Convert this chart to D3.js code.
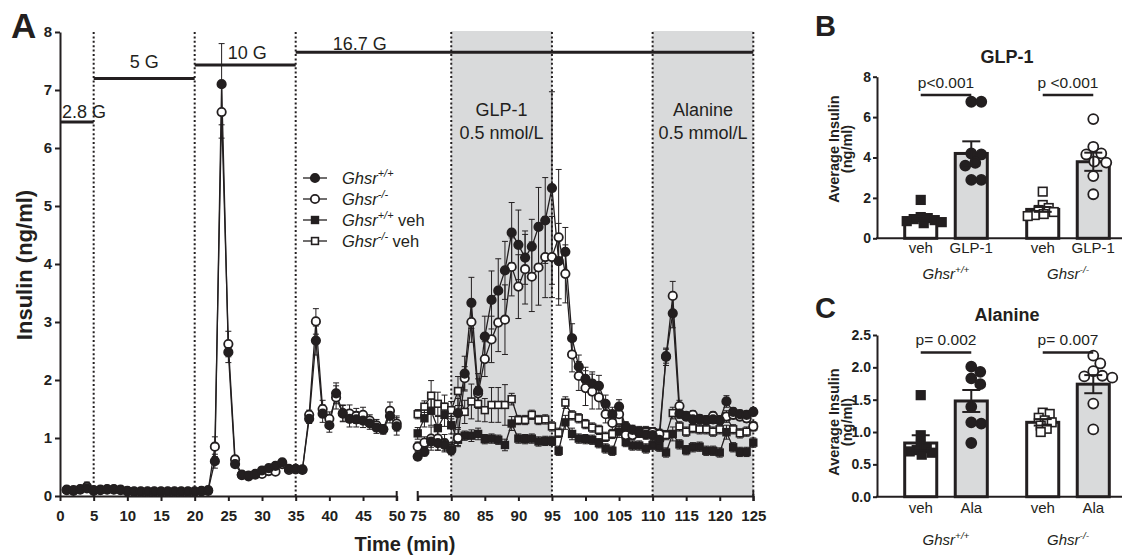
<!DOCTYPE html>
<html lang="en">
<head>
<meta charset="UTF-8">
<title>Insulin secretion, Ghsr perifusion</title>
<script src="https://d3js.org/d3.v7.min.js"></script>
<style>
  body { margin: 0; background: #fff; }
  svg text { font-family: "Liberation Sans", Arial, sans-serif; fill: #231f20; }
</style>
</head>
<body>
<svg width="1125" height="555"></svg>
<script>
// ---------- data: panel A ----------
const earlyT = d3.range(1, 51);
const lateT = d3.range(75, 126);

const wtEarly = [0.11,0.10,0.11,0.13,0.10,0.11,0.12,0.12,0.11,0.09, 0.08,0.08,0.08,0.08,0.08,0.08,0.08,0.08,0.08,0.08,
  0.09,0.10,0.60,7.10,2.48,0.55,0.37,0.34,0.37,0.44, 0.48,0.52,0.58,0.47,0.47,0.46,1.33,2.68,1.42,1.22,
  1.77,1.43,1.33,1.32,1.30,1.25,1.18,1.15,1.38,1.20];
const koEarly = [0.10,0.09,0.12,0.16,0.09,0.10,0.11,0.11,0.10,0.08, 0.07,0.07,0.07,0.07,0.07,0.07,0.07,0.07,0.07,0.07,
  0.08,0.09,0.85,6.62,2.62,0.63,0.36,0.35,0.38,0.38, 0.43,0.42,0.55,0.45,0.46,0.45,1.40,3.01,1.50,1.33,
  1.70,1.42,1.42,1.38,1.40,1.30,1.22,1.15,1.47,1.25];
const semWtEarly = [0.02,0.02,0.02,0.04,0.02,0.02,0.02,0.02,0.02,0.02, 0.02,0.02,0.02,0.02,0.02,0.02,0.02,0.02,0.02,0.02,
  0.02,0.02,0.12,0.70,0.18,0.05,0.03,0.03,0.03,0.04, 0.04,0.05,0.04,0.03,0.03,0.03,0.08,0.25,0.15,0.12,
  0.18,0.14,0.14,0.13,0.12,0.10,0.10,0.08,0.12,0.15];
const semKoEarly = [0.02,0.02,0.02,0.08,0.02,0.02,0.02,0.02,0.02,0.02, 0.02,0.02,0.02,0.02,0.02,0.02,0.02,0.02,0.02,0.02,
  0.02,0.02,0.17,0.45,0.22,0.05,0.03,0.03,0.03,0.04, 0.04,0.05,0.04,0.03,0.03,0.03,0.08,0.22,0.15,0.12,
  0.20,0.14,0.15,0.13,0.13,0.10,0.10,0.08,0.15,0.13];

const wtLate = [0.68,0.76,0.94,0.91,0.88,0.79,1.43,2.11,3.33,1.81, 2.75,3.38,3.54,3.89,4.54,4.33,4.11,4.30,4.64,4.75,
  5.31,4.05,4.21,2.72,2.23,2.02,1.94,1.90,1.59,1.41, 1.54,1.20,1.14,1.09,1.06,1.05,0.97,2.41,3.15,1.42,
  1.37,1.32,1.33,1.31,1.32,1.31,1.63,1.45,1.41,1.40, 1.45];
const koLate = [0.85,0.92,0.99,0.99,0.91,0.82,1.00,2.03,3.00,1.77, 2.36,2.70,2.99,3.04,3.95,3.61,3.91,3.78,3.94,4.12,
  4.12,4.46,3.83,2.44,2.07,1.86,1.80,1.70,1.41,1.26, 1.41,1.05,1.05,1.10,1.10,1.10,1.07,2.40,3.45,1.55,
  1.38,1.40,1.32,1.31,1.38,1.31,1.37,1.40,1.37,1.34, 1.20];
const wtVehLate = [1.08,1.34,1.47,1.17,1.40,1.22,0.97,1.04,1.04,1.07, 0.98,0.99,0.97,0.88,1.25,0.99,0.98,0.99,0.94,0.95,
  0.95,0.78,1.27,1.07,0.99,0.98,0.97,0.91,0.82,0.78, 1.11,0.93,0.87,0.87,0.82,0.88,0.85,0.75,1.07,0.89,
  0.79,0.84,0.85,0.78,0.78,0.75,1.10,0.84,0.76,0.76, 0.92];
const koVehLate = [1.41,1.54,1.73,1.59,1.54,1.48,1.81,1.45,1.63,1.59, 1.48,1.57,1.57,1.57,1.67,1.31,1.31,1.40,1.31,1.32,
  1.20,1.09,1.61,1.39,1.34,1.24,1.18,1.14,1.02,1.07, 1.30,1.05,1.10,1.12,1.12,1.10,1.07,1.05,1.43,1.20,
  1.11,1.17,1.15,1.15,1.11,1.15,1.37,1.15,1.08,1.11, 1.20];
const semWtLate = [0.06,0.07,0.10,0.12,0.10,0.08,0.25,0.30,0.44,0.30, 0.35,0.50,0.55,0.50,0.52,0.60,0.46,0.47,0.68,0.74,
  1.66,0.65,0.42,0.25,0.20,0.20,0.20,0.18,0.15,0.12, 0.12,0.08,0.08,0.08,0.08,0.08,0.08,0.12,0.25,0.08,
  0.07,0.07,0.07,0.07,0.07,0.07,0.10,0.07,0.07,0.07, 0.07];
const semKoLate = [0.08,0.10,0.20,0.20,0.15,0.10,0.15,0.20,0.35,0.25, 0.30,0.40,0.50,0.60,0.50,0.55,0.60,0.60,0.65,0.70,
  0.70,1.17,0.50,0.30,0.25,0.30,0.30,0.20,0.15,0.12, 0.12,0.08,0.08,0.08,0.08,0.08,0.08,0.15,0.25,0.10,
  0.07,0.07,0.07,0.07,0.07,0.07,0.07,0.07,0.07,0.07, 0.07];
const semWtVeh = [0.10,0.15,0.25,0.20,0.20,0.15,0.10,0.08,0.10,0.10, 0.08,0.08,0.08,0.10,0.12,0.08,0.08,0.08,0.08,0.08,
  0.08,0.08,0.12,0.10,0.08,0.08,0.08,0.08,0.08,0.08, 0.10,0.08,0.08,0.08,0.08,0.08,0.08,0.08,0.12,0.08,
  0.08,0.08,0.08,0.08,0.08,0.08,0.12,0.08,0.08,0.08, 0.08];
const semKoVeh = [0.08,0.10,0.26,0.20,0.20,0.15,0.25,0.20,0.30,0.30, 0.20,0.30,0.30,0.35,0.10,0.08,0.08,0.08,0.08,0.08,
  0.08,0.08,0.10,0.08,0.08,0.08,0.08,0.08,0.08,0.08, 0.10,0.08,0.08,0.08,0.08,0.08,0.08,0.08,0.10,0.08,
  0.08,0.08,0.08,0.08,0.08,0.08,0.10,0.08,0.08,0.08, 0.08];

const glucoseSteps = [
  { label: "2.8 G", from: 0, to: 5, level: 6.45 },
  { label: "5 G", from: 5, to: 20, level: 7.2 },
  { label: "10 G", from: 20, to: 35, level: 7.43 },
  { label: "16.7 G", from: 35, to: 125, level: 7.65 }
];
const stimuli = [
  { name: "GLP-1", dose: "0.5 nmol/L", from: 80, to: 95 },
  { name: "Alanine", dose: "0.5 mmol/L", from: 110, to: 125 }
];
const switchTimes = [5, 20, 35, 80, 95, 110, 125];
const ticksEarly = d3.range(0, 51, 5);
const ticksLate = d3.range(75, 126, 5);
const ticksA = d3.range(0, 9);

// ---------- data: panels B and C ----------
const genotypes = ["+/+", "-/-"];
const treatB = ["veh", "GLP-1"];
const meansB = [0.99, 4.2, 1.43, 3.79];
const semsB = [0.1, 0.6, 0.12, 0.45];
const pointsB = [
  [1.9, 1.05, 1.0, 0.95, 0.9, 0.85, 0.8, 0.75],
  [6.76, 6.76, 4.2, 4.15, 3.74, 3.6, 2.89, 2.89],
  [2.31, 1.65, 1.5, 1.4, 1.3, 1.2, 1.15, 1.1],
  [5.9, 4.53, 4.2, 4.15, 3.8, 3.75, 3.08, 2.18]
];
const pTextB = ["p<0.001", "p <0.001"];
const ticksB = [0, 2, 4, 6, 8];

const treatC = ["veh", "Ala"];
const meansC = [0.83, 1.48, 1.15, 1.74];
const semsC = [0.12, 0.17, 0.05, 0.14];
const pointsC = [
  [1.57, 0.95, 0.8, 0.75, 0.72, 0.7, 0.68, 0.65],
  [2.01, 1.93, 1.83, 1.74, 1.39, 1.15, 1.13, 0.83],
  [1.3, 1.28, 1.22, 1.18, 1.15, 1.1, 1.05, 1.0],
  [2.18, 2.06, 1.94, 1.87, 1.86, 1.84, 1.44, 1.04]
];
const pTextC = ["p= 0.002", "p= 0.007"];
const ticksC = [0, 0.5, 1, 1.5, 2, 2.5];

// ---------- drawing ----------
const ink = "#231f20";
const shade = "#d9dadb";
const svg = d3.select("svg");

function styleAxis(g, fs) {
  g.attr("font-size", fs).attr("font-family", "Liberation Sans, Arial, sans-serif");
  g.select(".domain").attr("stroke", ink).attr("stroke-width", 2);
  g.selectAll(".tick line").attr("stroke", ink).attr("stroke-width", 2);
  g.selectAll(".tick text").attr("font-weight", "bold").attr("fill", ink);
}

function ghsr(text, sup, suffix, fs) {
  text.attr("font-size", fs);
  text.append("tspan").attr("font-style", "italic").text("Ghsr");
  text.append("tspan").attr("font-style", "italic").attr("font-size", fs * 0.66)
    .attr("dy", -fs * 0.42).text(sup);
  if (suffix) text.append("tspan").attr("dy", fs * 0.42).text(suffix);
}

function marker(g, cx, cy, shape, filled, size) {
  if (shape === "circle") {
    g.append("circle").attr("cx", cx).attr("cy", cy).attr("r", size)
      .attr("fill", filled ? ink : "#fff").attr("stroke", ink).attr("stroke-width", 1.8);
  } else {
    g.append("rect").attr("x", cx - size).attr("y", cy - size)
      .attr("width", size * 2).attr("height", size * 2)
      .attr("fill", filled ? ink : "#fff").attr("stroke", ink).attr("stroke-width", 1.6);
  }
}

// ===== Panel A =====
const yA = d3.scaleLinear().domain([0, 8]).range([496, 32]);
const xEarly = d3.scaleLinear().domain([0, 50]).range([60, 396.7]);
const xLate = d3.scaleLinear().domain([75, 125]).range([417.7, 753.3]);
const xt = t => t <= 50 ? xEarly(t) : xLate(t);
const gA = svg.append("g");

gA.selectAll("rect.stim").data(stimuli).join("rect")
  .attr("x", d => xLate(d.from))
  .attr("width", d => xLate(d.to) - xLate(d.from))
  .attr("y", yA(8) - 1)
  .attr("height", yA(0) - yA(8) + 1)
  .attr("fill", shade);

stimuli.forEach(d => {
  const cx = xLate((d.from + d.to) / 2);
  gA.append("text").attr("x", cx).attr("y", 116).attr("text-anchor", "middle")
    .attr("font-size", 18).text(d.name);
  gA.append("text").attr("x", cx).attr("y", 139).attr("text-anchor", "middle")
    .attr("font-size", 18).text(d.dose);
});

gA.selectAll("line.switch").data(switchTimes).join("line")
  .attr("x1", d => xt(d)).attr("x2", d => xt(d))
  .attr("y1", yA(8)).attr("y2", yA(0))
  .attr("stroke", ink).attr("stroke-width", 2).attr("stroke-dasharray", "2 2.4");

// glucose steps
const glucoseLabelAt = [
  { t: 0.3, anchor: "start", lift: 4 },
  { t: 12.5, anchor: "middle", lift: 10 },
  { t: 24.9, anchor: "start", lift: 6.5 },
  { t: 40.5, anchor: "start", lift: 2.5 }
];
glucoseSteps.forEach((d, i) => {
  gA.append("line")
    .attr("x1", xt(d.from)).attr("x2", xt(d.to))
    .attr("y1", yA(d.level)).attr("y2", yA(d.level))
    .attr("stroke", ink).attr("stroke-width", 3);
  const p = glucoseLabelAt[i];
  gA.append("text").attr("x", xt(p.t)).attr("y", yA(d.level) - p.lift)
    .attr("text-anchor", p.anchor).attr("font-size", 18).text(d.label);
});

// axes
const axE = gA.append("g").attr("transform", `translate(0,${yA(0)})`)
  .call(d3.axisBottom(xEarly).tickValues(ticksEarly).tickSize(5).tickPadding(9).tickSizeOuter(0));
styleAxis(axE, 15);
const axL = gA.append("g").attr("transform", `translate(0,${yA(0)})`)
  .call(d3.axisBottom(xLate).tickValues(ticksLate).tickSize(5).tickPadding(9).tickSizeOuter(0));
styleAxis(axL, 15);
[50, 75, 125].forEach(t => {
  gA.append("line").attr("x1", xt(t)).attr("x2", xt(t))
    .attr("y1", yA(0) - 5).attr("y2", yA(0) + 5)
    .attr("stroke", ink).attr("stroke-width", 2);
});
const axY = gA.append("g").attr("transform", `translate(${xEarly(0)},0)`)
  .call(d3.axisLeft(yA).tickValues(ticksA).tickSize(5).tickPadding(3).tickSizeOuter(0));
styleAxis(axY, 15);

gA.append("text").attr("x", 405).attr("y", 551).attr("text-anchor", "middle")
  .attr("font-size", 20).attr("font-weight", "bold").text("Time (min)");
gA.append("text").attr("transform", "translate(32,265) rotate(-90)")
  .attr("text-anchor", "middle").attr("font-size", 22).attr("font-weight", "bold")
  .text("Insulin (ng/ml)");
gA.append("text").attr("x", 11).attr("y", 38).attr("font-size", 35)
  .attr("font-weight", "bold").text("A");

// series
const seriesA = [
  { shape: "square", filled: false, size: 3.4, segs: [[lateT, koVehLate, semKoVeh]] },
  { shape: "square", filled: true, size: 3.4, segs: [[lateT, wtVehLate, semWtVeh]] },
  { shape: "circle", filled: false, size: 4.2, segs: [[earlyT, koEarly, semKoEarly], [lateT, koLate, semKoLate]] },
  { shape: "circle", filled: true, size: 4.2, segs: [[earlyT, wtEarly, semWtEarly], [lateT, wtLate, semWtLate]] }
];
seriesA.forEach(s => {
  s.pts = s.segs.map(([ts, vs, es]) => ts.map((t, i) => ({ t, v: vs[i], e: es[i] })));
});

const gErr = gA.append("g").attr("stroke", ink).attr("stroke-width", 1);
seriesA.forEach(s => s.pts.flat().forEach(d => {
  const x = xt(d.t), y0 = yA(d.v - d.e), y1 = yA(d.v + d.e);
  gErr.append("line").attr("x1", x).attr("x2", x).attr("y1", y0).attr("y2", y1);
  gErr.append("line").attr("x1", x - 3).attr("x2", x + 3).attr("y1", y1).attr("y2", y1);
  gErr.append("line").attr("x1", x - 3).attr("x2", x + 3).attr("y1", y0).attr("y2", y0);
}));

const line = d3.line().x(d => xt(d.t)).y(d => yA(d.v));
seriesA.forEach(s => s.pts.forEach(seg => {
  gA.append("path").attr("d", line(seg)).attr("fill", "none")
    .attr("stroke", ink).attr("stroke-width", 1.3);
}));
seriesA.forEach(s => {
  const gm = gA.append("g");
  s.pts.flat().forEach(d => marker(gm, xt(d.t), yA(d.v), s.shape, s.filled, s.size));
});

// legend
const legendRows = [
  { sup: "+/+", suffix: "", shape: "circle", filled: true, size: 4.2 },
  { sup: "-/-", suffix: "", shape: "circle", filled: false, size: 4.2 },
  { sup: "+/+", suffix: " veh", shape: "square", filled: true, size: 3.4 },
  { sup: "-/-", suffix: " veh", shape: "square", filled: false, size: 3.4 }
];
const gLeg = gA.append("g");
legendRows.forEach((r, i) => {
  const cy = 178 + i * 21;
  gLeg.append("line").attr("x1", 303).attr("x2", 327).attr("y1", cy).attr("y2", cy)
    .attr("stroke", ink).attr("stroke-width", 1.3);
  marker(gLeg, 315, cy, r.shape, r.filled, r.size);
  ghsr(gLeg.append("text").attr("x", 342).attr("y", cy + 6), r.sup, r.suffix, 16.5);
});

// ===== Panels B and C =====
const groupX = d3.scalePoint().domain(genotypes).range([885, 1129]).padding(0.5);
const innerX = d3.scaleBand().domain([0, 1]).range([-41.3, 41.3]).paddingInner(0.366);

// simple dodge so that points at similar heights sit side by side
function swarm(values, y, cx, r) {
  const placed = [];
  return values.map(v => {
    const py = y(v);
    let off = 0;
    for (let k = 0; k < 80; k++) {
      const cand = (k % 2 ? 1 : -1) * Math.ceil(k / 2);
      if (placed.every(p => Math.hypot(p.x - (cx + cand), p.y - py) >= 2 * r)) { off = cand; break; }
    }
    const pt = { x: cx + off, y: py };
    placed.push(pt);
    return pt;
  });
}

function barPanel(o) {
  const g = svg.append("g");
  const y = d3.scaleLinear().domain(o.domain).range(o.range);
  const ax = g.append("g").attr("transform", "translate(877,0)")
    .call(d3.axisLeft(y).tickValues(o.ticks).tickFormat(o.fmt).tickSize(4).tickPadding(2).tickSizeOuter(0));
  styleAxis(ax, 14);
  g.append("line").attr("x1", 876).attr("x2", 1122).attr("y1", y(0)).attr("y2", y(0))
    .attr("stroke", ink).attr("stroke-width", 2);

  o.means.forEach((m, i) => {
    const gi = Math.floor(i / 2), ti = i % 2;
    const x0 = groupX(genotypes[gi]) + innerX(ti);
    const cx = x0 + innerX.bandwidth() / 2;
    g.append("rect").attr("x", x0).attr("width", innerX.bandwidth())
      .attr("y", y(m)).attr("height", y(0) - y(m))
      .attr("fill", ti ? shade : "#fff").attr("stroke", ink).attr("stroke-width", 3);
    const pts = swarm(o.points[i], y, cx, ti ? 5 : 3.2);
    pts.forEach(p => marker(g, p.x, p.y, ti ? "circle" : "square", gi === 0, ti ? 5 : 4.3));
    const e0 = y(m - o.sems[i]), e1 = y(m + o.sems[i]);
    g.append("line").attr("x1", cx).attr("x2", cx).attr("y1", e0).attr("y2", e1)
      .attr("stroke", ink).attr("stroke-width", 2);
    [e0, e1].forEach(ey => g.append("line").attr("x1", cx - 9).attr("x2", cx + 9)
      .attr("y1", ey).attr("y2", ey).attr("stroke", ink).attr("stroke-width", 2));
    g.append("text").attr("x", cx).attr("y", o.catY).attr("text-anchor", "middle")
      .attr("font-size", 15).text(o.treat[ti]);
  });

  genotypes.forEach((gt, gi) => {
    const gc = groupX(gt);
    const xa = gc + innerX(0) + innerX.bandwidth() / 2;
    const xb = gc + innerX(1) + innerX.bandwidth() / 2;
    g.append("line").attr("x1", xa).attr("x2", xb)
      .attr("y1", y(o.sig)).attr("y2", y(o.sig)).attr("stroke", ink).attr("stroke-width", 2.5);
    g.append("text").attr("x", gc).attr("y", y(o.sig) - 7).attr("text-anchor", "middle")
      .attr("font-size", 15.5).text(o.pText[gi]);
    ghsr(g.append("text").attr("x", gc).attr("y", o.groupY).attr("text-anchor", "middle"), gt, "", 15);
  });

  g.append("text").attr("transform", `translate(839,${o.labelY}) rotate(-90)`).attr("text-anchor", "middle")
    .attr("font-size", 14.5).attr("font-weight", "bold").text("Average Insulin");
  g.append("text").attr("transform", `translate(852,${o.labelY}) rotate(-90)`).attr("text-anchor", "middle")
    .attr("font-size", 14.5).attr("font-weight", "bold").text("(ng/ml)");
  g.append("text").attr("x", 1007).attr("y", o.titleY).attr("text-anchor", "middle")
    .attr("font-size", 18).attr("font-weight", "bold").text(o.title);
  g.append("text").attr("x", 815).attr("y", o.letterY).attr("font-size", 29)
    .attr("font-weight", "bold").text(o.letter);
}

barPanel({
  letter: "B", letterY: 36, title: "GLP-1", titleY: 63, labelY: 149,
  domain: [0, 8], range: [238.3, 76.7], ticks: ticksB, fmt: d3.format("d"),
  means: meansB, sems: semsB, points: pointsB, treat: treatB,
  sig: 7.09, pText: pTextB, catY: 253, groupY: 279
});
barPanel({
  letter: "C", letterY: 318, title: "Alanine", titleY: 321, labelY: 422,
  domain: [0, 2.5], range: [496.7, 335], ticks: ticksC, fmt: d3.format(".1f"),
  means: meansC, sems: semsC, points: pointsC, treat: treatC,
  sig: 2.23, pText: pTextC, catY: 513, groupY: 545
});
</script>
</body>
</html>
